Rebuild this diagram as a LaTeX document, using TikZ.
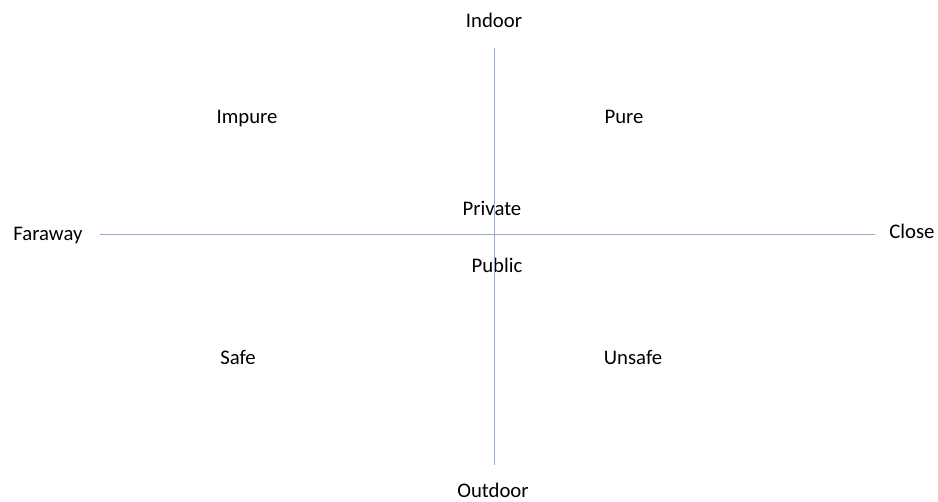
\documentclass[tikz,border=0pt]{standalone}
\usepackage{fontspec}
\setmainfont{Carlito}
\definecolor{axisblue}{RGB}{150,172,212}
\tikzset{
  lbl/.style={inner sep=0pt, text height=1.6ex, text depth=0.45ex, font=\fontsize{11.8}{14}\selectfont},
  axis/.style={draw=axisblue, line width=0.45pt}
}
\begin{document}
\begin{tikzpicture}[x=0.02cm, y=-0.02cm]
      \useasboundingbox (0,0) rectangle (938,502);
      \draw
        (494,23) node[lbl] (indoor){Indoor}
        (493,493) node[lbl] (outdoor){Outdoor}
        (48,236) node[lbl] (faraway){Faraway}
        (912,234) node[lbl] (close){Close}
        (247,119) node[lbl] (impure){Impure}
        (624,119) node[lbl] (pure){Pure}
        (492,211) node[lbl] (private){Private}
        (497,268) node[lbl] (public){Public}
        (238,360) node[lbl] (safe){Safe}
        (633,360) node[lbl] (unsafe){Unsafe};
      \coordinate (top) at (494,48);
      \coordinate (bottom) at (494,465);
      \coordinate (left) at (100,234);
      \coordinate (right) at (875,234);
      \begin{scope}[axis]
        \draw (top) to (bottom);
        \draw (left) to (right);
      \end{scope}
    \end{tikzpicture}
\end{document}
